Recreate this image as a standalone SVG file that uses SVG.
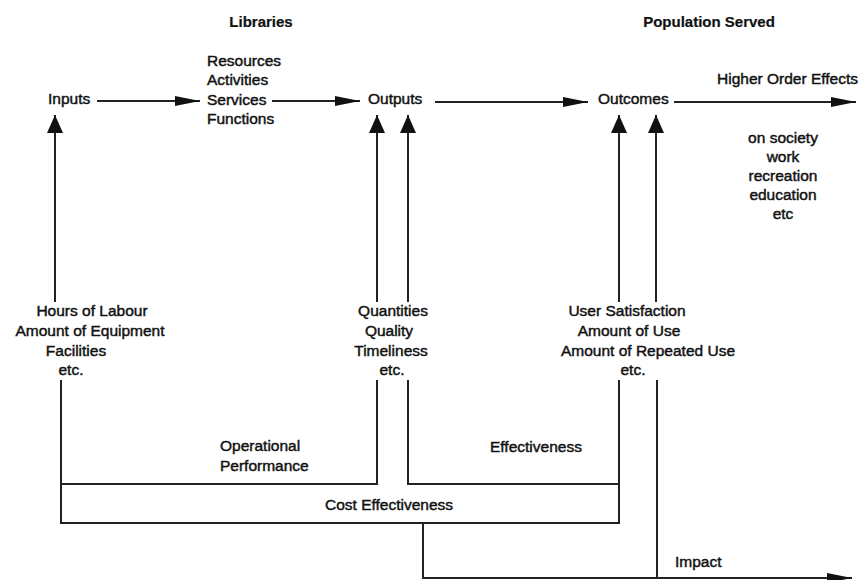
<svg xmlns="http://www.w3.org/2000/svg" width="859" height="580" viewBox="0 0 859 580">
<style>
text{font-family:"Liberation Sans",Arial,sans-serif;font-size:15.5px;fill:#111;stroke:#111;stroke-width:0.45}
.h{font-weight:bold;font-size:15px;stroke-width:0.2}
.c{text-anchor:middle}
.ln{fill:none;stroke:#222;stroke-width:2}
</style>
<defs>
<marker id="ah" markerUnits="userSpaceOnUse" markerWidth="26" markerHeight="12" refX="25" refY="6" orient="auto"><path d="M0,1 L25,6 L0,11 z" fill="#111"/></marker>
<marker id="av" markerUnits="userSpaceOnUse" markerWidth="19" markerHeight="18" refX="18" refY="9" orient="auto"><path d="M0,1 L18,9 L0,17 z" fill="#111"/></marker>
</defs>
<rect width="859" height="580" fill="#fff"/>
<g id="headers">
<text class="h c" x="261" y="27">Libraries</text>
<text class="h c" x="709" y="27">Population Served</text>
</g>
<g id="inputs"><text x="48" y="104">Inputs</text></g>
<g id="processes">
<text x="207" y="66">Resources</text>
<text x="207" y="85">Activities</text>
<text x="207" y="105">Services</text>
<text x="207" y="124">Functions</text>
</g>
<g id="outputs"><text x="368" y="104">Outputs</text></g>
<g id="outcomes"><text x="598" y="104">Outcomes</text></g>
<g id="higher-order"><text x="717" y="84">Higher Order Effects</text>
<text class="c" x="783" y="143">on society</text>
<text class="c" x="783" y="162">work</text>
<text class="c" x="783" y="181">recreation</text>
<text class="c" x="783" y="200">education</text>
<text class="c" x="783" y="219">etc</text>
</g>
<g id="input-measures">
<text class="c" x="92" y="316">Hours of Labour</text>
<text class="c" x="90" y="336">Amount of Equipment</text>
<text class="c" x="76" y="356">Facilities</text>
<text class="c" x="71" y="375">etc.</text>
</g>
<g id="output-measures">
<text class="c" x="393" y="316">Quantities</text>
<text class="c" x="389" y="336">Quality</text>
<text class="c" x="391" y="356">Timeliness</text>
<text class="c" x="392" y="375">etc.</text>
</g>
<g id="outcome-measures">
<text class="c" x="627" y="316">User Satisfaction</text>
<text class="c" x="629" y="336">Amount of Use</text>
<text class="c" x="648" y="356">Amount of Repeated Use</text>
<text class="c" x="633" y="375">etc.</text>
</g>
<g id="operational"><text x="220" y="451">Operational</text><text x="220" y="471">Performance</text></g>
<g id="effectiveness"><text x="490" y="452">Effectiveness</text></g>
<g id="cost-effectiveness"><text x="325" y="510">Cost Effectiveness</text></g>
<g id="impact"><text x="675" y="567">Impact</text></g>
<g id="connectors">
<line class="ln" x1="97" y1="101" x2="200" y2="101" marker-end="url(#ah)"/>
<line class="ln" x1="272" y1="101" x2="360" y2="101" marker-end="url(#ah)"/>
<line class="ln" x1="435" y1="102" x2="588" y2="102" marker-end="url(#ah)"/>
<line class="ln" x1="674" y1="102" x2="856" y2="102" marker-end="url(#ah)"/>
<line class="ln" x1="55" y1="302" x2="55" y2="115" marker-end="url(#av)"/>
<line class="ln" x1="377" y1="302" x2="377" y2="115" marker-end="url(#av)"/>
<line class="ln" x1="408" y1="302" x2="408" y2="115" marker-end="url(#av)"/>
<line class="ln" x1="619" y1="302" x2="619" y2="115" marker-end="url(#av)"/>
<line class="ln" x1="656" y1="302" x2="656" y2="115" marker-end="url(#av)"/>
<polyline class="ln" points="61,380 61,523 619,523 619,380"/>
<polyline class="ln" points="61,484 377,484 377,380"/>
<polyline class="ln" points="408,380 408,484 619,484"/>
<polyline class="ln" points="423,523 423,578 852,578" marker-end="url(#ah)"/>
<line class="ln" x1="657" y1="380" x2="657" y2="578"/>
</g>
</svg>
